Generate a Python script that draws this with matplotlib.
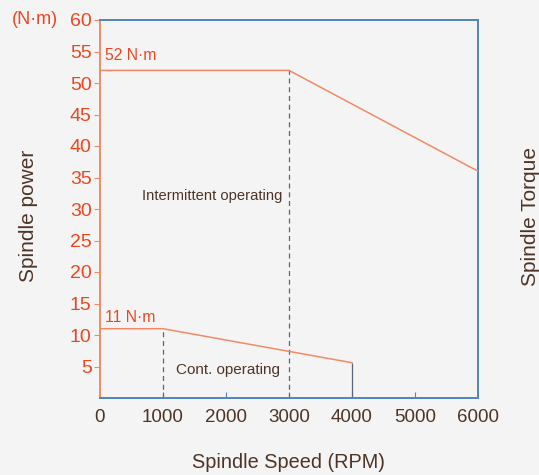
import matplotlib
matplotlib.use("Agg")
import matplotlib.pyplot as plt

plt.rcParams['font.family'] = ['Liberation Sans', 'DejaVu Sans']

# Data
upper_x = [0, 3000, 6000]
upper_y = [52, 52, 36]
lower_x = [0, 1000, 4000]
lower_y = [11, 11, 5.6]
xticks = [0, 1000, 2000, 3000, 4000, 5000, 6000]
yticks = [5, 10, 15, 20, 25, 30, 35, 40, 45, 50, 55, 60]

RED = '#f0441e'
LINE = '#f28a66'
BLUE = '#4f86bd'
BROWN = '#4e3426'
GREY = '#5c6478'
BG = '#f4f4f4'

fig = plt.figure(figsize=(5.39, 4.75), dpi=100, facecolor=BG)
ax = fig.add_axes([100/539, 1 - 398/475, 378/539, 378/475])
ax.set_facecolor(BG)
ax.set_xlim(0, 6000)
ax.set_ylim(0, 60)

ax.plot(upper_x, upper_y, color=LINE, lw=1.1, zorder=3)
ax.plot(lower_x, lower_y, color=LINE, lw=1.1, zorder=3)

ax.vlines(1000, 0, lower_y[1], colors=GREY, linestyles=(0, (4, 3)), lw=0.9)
ax.vlines(3000, 0, upper_y[1], colors=GREY, linestyles=(0, (4, 3)), lw=0.9)
ax.vlines(4000, 0, lower_y[2], colors=GREY, lw=0.9)

for s in ['top', 'right', 'bottom']:
    ax.spines[s].set_color(BLUE)
    ax.spines[s].set_linewidth(1.4)
ax.spines['left'].set_color(LINE)
ax.spines['left'].set_linewidth(1.4)

ax.set_xticks(xticks)
ax.set_xticklabels([str(v) for v in xticks])
ax.set_yticks(yticks)
ax.set_yticklabels([str(v) for v in yticks])
ax.tick_params(axis='x', direction='in', length=4, color=BLUE, labelcolor=BROWN,
               labelsize=13.5, pad=8)
ax.tick_params(axis='y', direction='out', length=4, color=LINE, labelcolor=RED,
               labelsize=14, pad=2)

ax.text(80, 54.3, '52 N·m', color=RED, fontsize=11.3, va='center', ha='left')
ax.text(80, 12.8, '11 N·m', color=RED, fontsize=11.3, va='center', ha='left')
ax.text(1780, 32, 'Intermittent operating', color=BROWN, fontsize=10.6,
        ha='center', va='center')
ax.text(2030, 4.4, 'Cont. operating', color=BROWN, fontsize=11,
        ha='center', va='center')

fig.text(35/539, 1 - 20/475, '(N·m)', color=RED, fontsize=13, ha='center', va='center')
fig.text(28/539, 1 - 216/475, 'Spindle power', color=BROWN, fontsize=15,
         rotation=90, ha='center', va='center')
fig.text(530/539, 1 - 216/475, 'Spindle Torque', color=BROWN, fontsize=15,
         rotation=90, ha='center', va='center')
fig.text(288/539, 1 - 462/475, 'Spindle Speed (RPM)', color=BROWN, fontsize=14.3,
         ha='center', va='center')

fig.savefig('out.png', dpi=100, facecolor=BG)
